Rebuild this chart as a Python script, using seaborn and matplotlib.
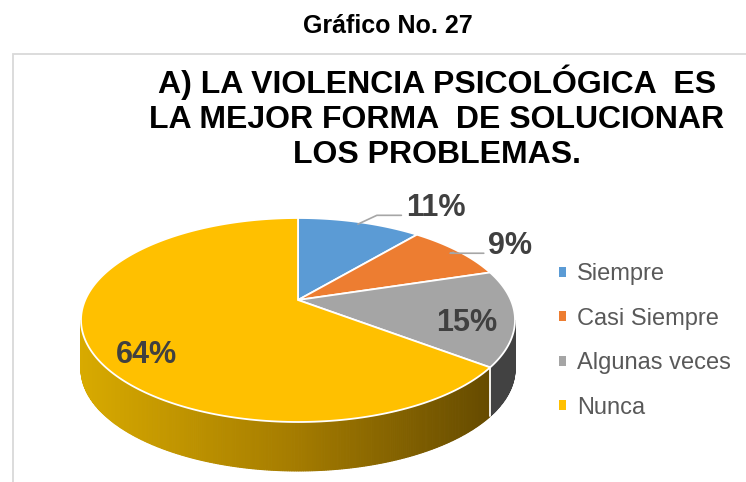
import numpy as np
import matplotlib
matplotlib.use('Agg')
import matplotlib.pyplot as plt
import seaborn as sns
from matplotlib.colors import LinearSegmentedColormap
from matplotlib.patches import Rectangle, Polygon

# data
categories = ['Siempre', 'Casi Siempre', 'Algunas veces', 'Nunca']
values = [11, 9, 15, 64]
pct_labels = ['11%', '9%', '15%', '64%']
fig_title = 'Gráfico No. 27'
chart_title = ['A) LA VIOLENCIA PSICOLÓGICA  ES',
               'LA MEJOR FORMA  DE SOLUCIONAR',
               'LOS PROBLEMAS.']

sns.set_theme(style='white')
plt.rcParams['font.family'] = ['Liberation Sans', 'DejaVu Sans']

colors = sns.color_palette(['#5B9BD5', '#ED7D31', '#A5A5A5', '#FFC000'])
wall_colors = ['#2F5F8F', '#A8541C', '#424242', None]  # None -> gold gradient
wall_cmap = LinearSegmentedColormap.from_list('wall', ['#D8AA00', '#A47B00', '#5E4500'])

W, H = 746, 482
fig = plt.figure(figsize=(W / 100, H / 100), dpi=100)
ax = fig.add_axes([0, 0, 1, 1])

# pixel geometry of the tilted top face
cx, cy, rx, ry = 298, 320, 217, 102
depth = 0.48
tilt = 0.196  # perspective shift of the pie centre towards the back


def persp(x, y):
    # projective map that keeps the unit circle but moves its centre up
    den = 1 + tilt * y
    return x * np.sqrt(1 - tilt ** 2) / den, (y + tilt) / den


wedges, _ = ax.pie(values, colors=colors, startangle=90, counterclock=False,
                   wedgeprops=dict(edgecolor='white', linewidth=1.3))
ax.set_aspect('auto')
ax.set_xlim(-cx / rx, (W - cx) / rx)
ax.set_ylim((cy - H) / ry, cy / ry)
ax.axis('off')

# redraw the top face in perspective
for w in wedges:
    t = np.radians(np.linspace(w.theta1, w.theta2, 200))
    px, py = persp(np.r_[0, np.cos(t)], np.r_[0, np.sin(t)])
    ax.add_patch(Polygon(np.c_[px, py], closed=True, facecolor=w.get_facecolor(),
                         edgecolor='white', lw=1.3, zorder=3))
    w.set_visible(False)

# side wall of the disc (only the front half is visible)
for w, wc in zip(wedges, wall_colors):
    ts = np.radians(np.linspace(w.theta1, w.theta2, int(w.theta2 - w.theta1) * 2 + 2))
    xs, ys = persp(np.cos(ts), np.sin(ts))
    for i in range(len(ts) - 1):
        if ys[i] > 0 and ys[i + 1] > 0:
            continue
        sx, sy = xs[i:i + 2], np.minimum(ys[i:i + 2], 0)
        c = wc if wc else wall_cmap((sx.mean() + 1) / 2)
        ax.fill(np.r_[sx, sx[::-1]], np.r_[sy, sy[::-1] - depth],
                color=c, lw=0.8, zorder=1)
    bx, by = persp(np.cos(np.radians(w.theta1)), np.sin(np.radians(w.theta1)))
    if by < 0:
        ax.plot([bx, bx], [by, by - depth], color='white', lw=1.3, zorder=2)

# percentage labels
label_pos = [(1.27, -10), (1.22, 3), (0.78, 8), (0.78, 0)]
leader_angle = [25, 15, 0, 0]
for w, txt, (r, sh), la in zip(wedges, pct_labels, label_pos, leader_angle):
    mid = np.radians((w.theta1 + w.theta2) / 2)
    ang = mid + np.radians(sh)
    pos = (r * np.cos(ang), r * np.sin(ang))
    kw = dict(ha='center', va='center', fontsize=22, fontweight='bold',
              color='#404040', zorder=5)
    if r > 1:
        edge = persp(0.97 * np.cos(mid), 0.97 * np.sin(mid))
        ax.annotate(txt, xy=edge, xytext=pos,
                    arrowprops=dict(arrowstyle='-', color='#A6A6A6', lw=1.2,
                                    relpos=(0, 0.25), shrinkA=1, shrinkB=0,
                                    connectionstyle=f'angle,angleA=0,angleB={la},rad=0'),
                    **kw)
    else:
        ax.text(pos[0], pos[1], txt, **kw)

# legend
handles = [Rectangle((0, 0), 1, 1, facecolor=c, edgecolor='none') for c in colors]
leg = ax.legend(handles, categories, loc='center left',
                bbox_to_anchor=(559 / W, 1 - 341 / H), bbox_transform=fig.transFigure,
                frameon=False, fontsize=17, handlelength=0.3, handleheight=0.3,
                handletextpad=0.45, labelspacing=0.95, borderpad=0, borderaxespad=0)
for t in leg.get_texts():
    t.set_color('#595959')

# chart border and titles
fig.patches.append(Rectangle((12.5 / W, -0.1), 1, 1.1 - 54 / H, transform=fig.transFigure,
                             fill=False, edgecolor='#D9D9D9', lw=1.3))
fig.text(388 / W, 1 - 33 / H, fig_title, ha='center', va='baseline',
         fontsize=18, fontweight='bold', color='black')
for i, line in enumerate(chart_title):
    fig.text(437 / W, 1 - (93 + 35 * i) / H, line, ha='center', va='baseline',
             fontsize=23, fontweight='bold', color='black')

fig.savefig('out.png', dpi=100)
